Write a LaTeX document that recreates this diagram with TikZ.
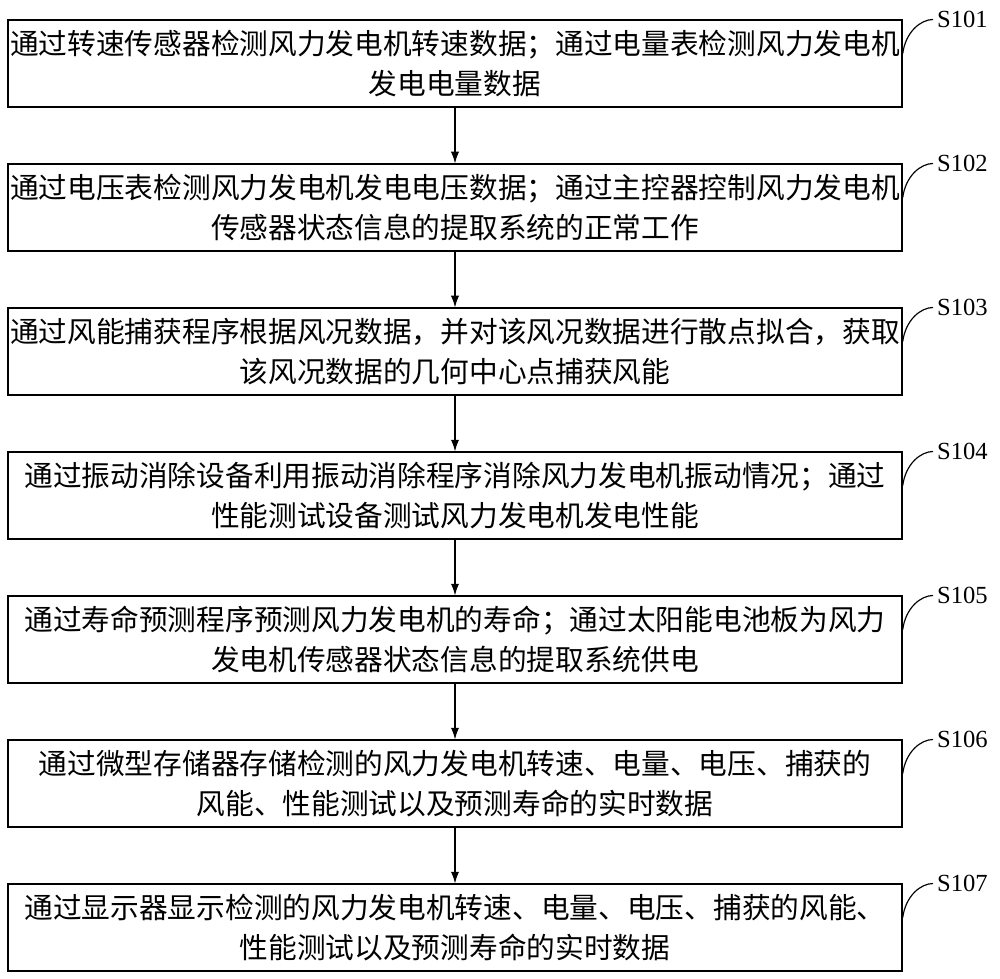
\documentclass[tikz,border=0pt]{standalone}
\usepackage{fontspec}
\setmainfont{Liberation Serif}
\newfontfamily\cjk{Noto Sans CJK SC}
\begin{document}
\begin{tikzpicture}[x=0.03cm,y=-0.03cm,
  stepbox/.style={draw,line width=1.2pt,minimum width=26.82cm,minimum height=2.6cm,align=center,font=\cjk\fontsize{24.5}{34}\selectfont,inner sep=0pt},
  arr/.style={-{Latex[length=10pt,width=7pt]},line width=1pt},
  lbl/.style={font=\fontsize{21}{24}\selectfont,anchor=west}]
\usetikzlibrary{arrows.meta}
\useasboundingbox (0,0) rectangle (1000,979);
\foreach \i/\t [count=\n] in {
 S101/{通过转速传感器检测风力发电机转速数据；通过电量表检测风力发电机\\发电电量数据},
 S102/{通过电压表检测风力发电机发电电压数据；通过主控器控制风力发电机\\传感器状态信息的提取系统的正常工作},
 S103/{通过风能捕获程序根据风况数据，并对该风况数据进行散点拟合，获取\\该风况数据的几何中心点捕获风能},
 S104/{通过振动消除设备利用振动消除程序消除风力发电机振动情况；通过\\性能测试设备测试风力发电机发电性能},
 S105/{通过寿命预测程序预测风力发电机的寿命；通过太阳能电池板为风力\\发电机传感器状态信息的提取系统供电},
 S106/{通过微型存储器存储检测的风力发电机转速、电量、电压、捕获的\\风能、性能测试以及预测寿命的实时数据},
 S107/{通过显示器显示检测的风力发电机转速、电量、电压、捕获的风能、\\性能测试以及预测寿命的实时数据}}{
  \pgfmathsetmacro{\yc}{63.5+144*(\n-1)}
  \node[stepbox] (b\n) at (455,\yc) {\t};
  \node[lbl] (l\n) at (933,\yc-44) {\i};
  \draw[line width=1pt] (b\n.east) ++(0,-10) coordinate (c\n) .. controls +(3,-22) and +(-12,0) .. (l\n.west);
}
\foreach \a/\b in {1/2,2/3,3/4,4/5,5/6,6/7}{\draw[arr] (b\a) -- (b\b);}
\end{tikzpicture}
\end{document}
